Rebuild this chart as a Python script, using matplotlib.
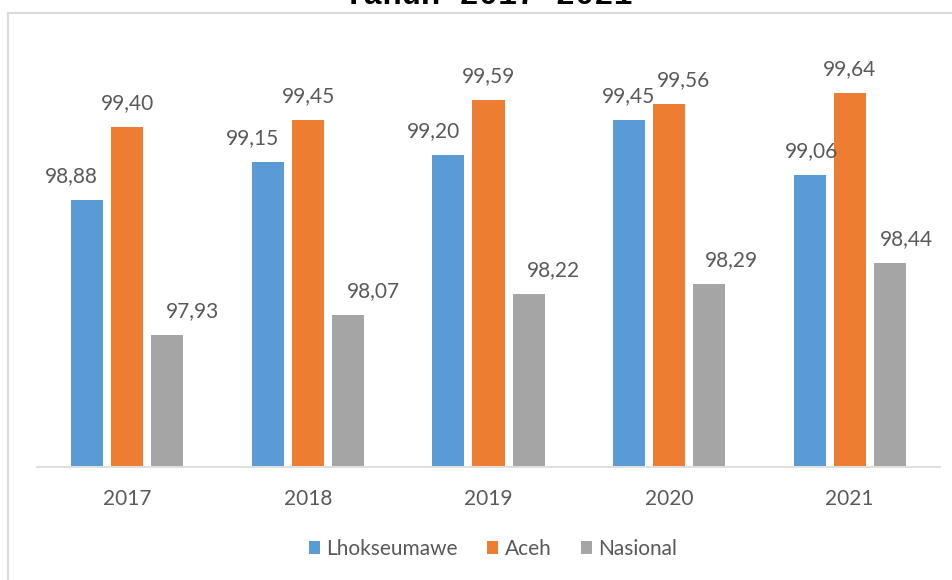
import numpy as np
import matplotlib.pyplot as plt
from matplotlib.lines import Line2D

# values
years = ['2017', '2018', '2019', '2020', '2021']
lhokseumawe = [98.88, 99.15, 99.20, 99.45, 99.06]
aceh = [99.40, 99.45, 99.59, 99.56, 99.64]
nasional = [97.93, 98.07, 98.22, 98.29, 98.44]

series = [('Lhokseumawe', lhokseumawe, '#5B9BD5'),
          ('Aceh', aceh, '#ED7D31'),
          ('Nasional', nasional, '#A5A5A5')]

# horizontal nudges of the data labels (pixels), as placed in the original
label_shift = [[-16, 0, 25], [-15, 1, 25], [-15, 0, 25], [-1, 14, 22], [2, 0, 17]]

plt.rcParams['font.family'] = ['Lato', 'DejaVu Sans']
txt = '#595959'

fig = plt.figure(figsize=(9.52, 5.8), dpi=100)
ax = fig.add_axes([37 / 952, 1 - 466.5 / 580, 903 / 952, 424.5 / 580])

x = np.arange(len(years))
width = 0.178
step = 0.222
for i, (name, vals, color) in enumerate(series):
    pos = x + (i - 1) * step
    ax.bar(pos, [v - 97 for v in vals], width, bottom=97, color=color, label=name)
    for j, (p, v) in enumerate(zip(pos, vals)):
        ax.annotate(f'{v:.2f}'.replace('.', ','), (p, v),
                    xytext=(label_shift[j][i], 18), textcoords='offset pixels',
                    ha='center', va='baseline', fontsize=15, color=txt)

ax.set_ylim(97, 100)
ax.set_xlim(-0.5, len(years) - 0.5)
ax.set_xticks(x)
ax.set_xticklabels(years, fontsize=15, color=txt)
ax.tick_params(axis='x', length=0, pad=16)
ax.set_yticks([])
for s in ['top', 'right', 'left']:
    ax.spines[s].set_visible(False)
ax.spines['bottom'].set_color('#D9D9D9')
ax.spines['bottom'].set_linewidth(1.2)

leg = fig.legend(loc='center', bbox_to_anchor=(493 / 952, 1 - 549 / 580),
                 ncol=3, frameon=False, fontsize=15, handlelength=0.55,
                 handleheight=0.55, handletextpad=0.3, columnspacing=1.4)
for t in leg.get_texts():
    t.set_color(txt)

# chart frame, partly cut off by the screenshot
fig.add_artist(Line2D([7.5 / 952, 7.5 / 952], [0, 1 - 12.5 / 580],
                      transform=fig.transFigure, color='#D9D9D9', lw=1.5))
fig.add_artist(Line2D([7.5 / 952, 1], [1 - 12.5 / 580, 1 - 12.5 / 580],
                      transform=fig.transFigure, color='#D9D9D9', lw=1.5))

# title, only its lower half is visible
fig.text(488 / 952, 1 - 4 / 580, 'Tahun 2017-2021', ha='center', va='baseline',
         fontsize=23, fontweight='bold', family='Liberation Mono', color='black')

fig.savefig('out.png', dpi=100)
